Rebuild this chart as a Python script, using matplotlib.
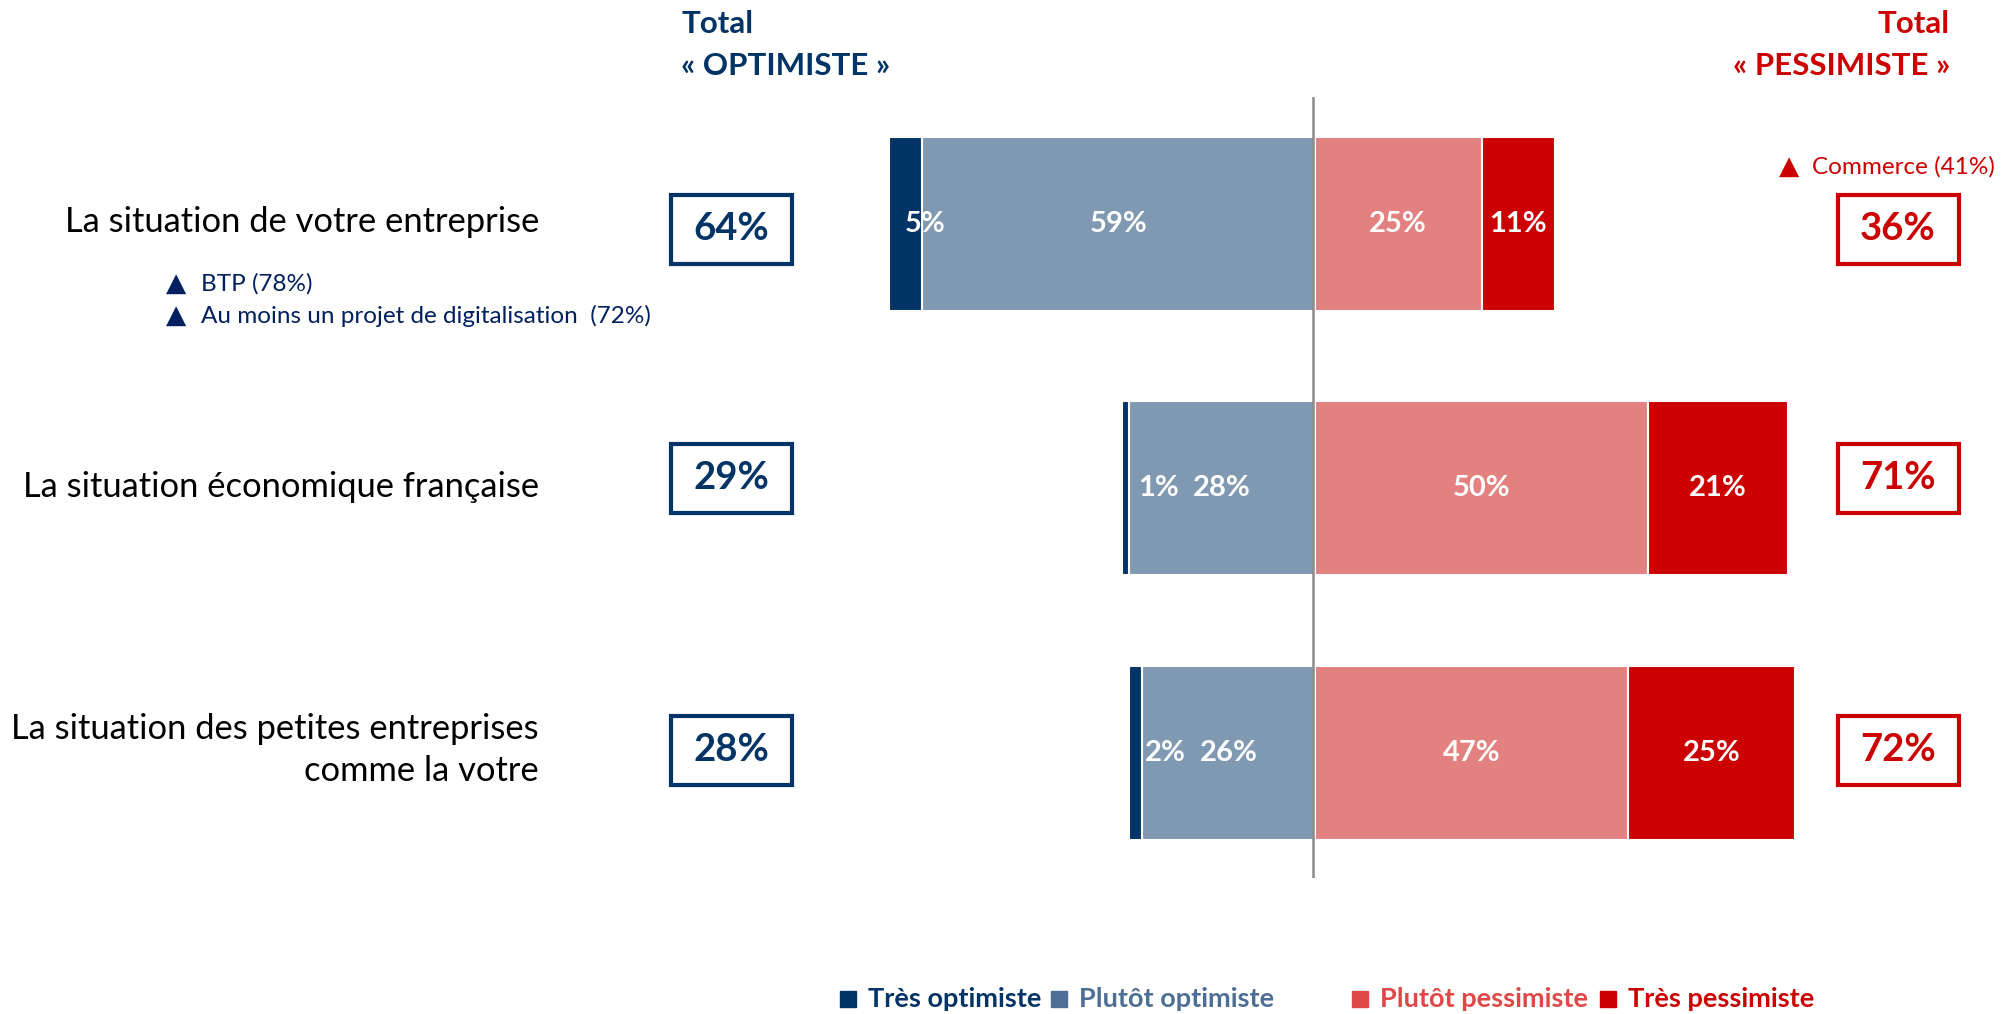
import matplotlib
matplotlib.use("Agg")
import matplotlib.pyplot as plt
from matplotlib.patches import Rectangle
import numpy as np

plt.rcParams['font.family'] = ['Lato', 'DejaVu Sans']

# data
categories = ["La situation de votre entreprise",
              "La situation économique française",
              "La situation des petites entreprises\ncomme la votre"]
tres_optimiste = [5, 1, 2]
plutot_optimiste = [59, 28, 26]
plutot_pessimiste = [25, 50, 47]
tres_pessimiste = [11, 21, 25]
total_optimiste = [64, 29, 28]
total_pessimiste = [36, 71, 72]

series_names = ["Très optimiste", "Plutôt optimiste", "Plutôt pessimiste", "Très pessimiste"]

NAVY = "#003366"
STEEL = "#7f99b2"
PINK = "#e38080"
RED = "#cc0000"

W, H = 2004, 1014
fig = plt.figure(figsize=(W / 100, H / 100), dpi=100)


def fx(px):
    return px / W


def fy(py):
    return 1 - py / H


# bar axes: 0% at x=1315 px, 6.66 px per %
x0_px, px_per = 1315, 6.66
xmin, xmax = -70, 80
left_px = x0_px + xmin * px_per
right_px = x0_px + xmax * px_per
top_px, bot_px = 97, 878
ax = fig.add_axes([fx(left_px), fy(bot_px), (right_px - left_px) / W, (bot_px - top_px) / H])
ax.set_xlim(xmin, xmax)
ax.set_ylim(2.473, -0.48)
ax.axis("off")

y = np.arange(len(categories))
to = np.array(tres_optimiste)
po = np.array(plutot_optimiste)
pp = np.array(plutot_pessimiste)
tp = np.array(tres_pessimiste)
h = 0.658

ax.barh(y, -po, height=h, color=STEEL, edgecolor="white", linewidth=1.5)
ax.barh(y, -to, left=-po, height=h, color=NAVY, edgecolor="white", linewidth=1.5)
ax.barh(y, pp, height=h, color=PINK, edgecolor="white", linewidth=1.5)
ax.barh(y, tp, left=pp, height=h, color=RED, edgecolor="white", linewidth=1.5)
ax.axvline(-0.35, color="#8c8c8c", linewidth=1.8)

lab_kw = dict(color="white", fontsize=21, fontweight="bold", ha="center", va="center")
for i in range(len(categories)):
    ax.text(-po[i] - to[i] + 5.5, y[i], f"{to[i]}%", **lab_kw)
    ax.text(-po[i] / 2, y[i], f"{po[i]}%", **lab_kw)
    ax.text(pp[i] / 2, y[i], f"{pp[i]}%", **lab_kw)
    ax.text(pp[i] + tp[i] / 2, y[i], f"{tp[i]}%", **lab_kw)

# category labels
cat_y = [222, 487, 750]
for lab, cy in zip(categories, cat_y):
    fig.text(fx(539), fy(cy), lab, ha="right", va="center", fontsize=24.8,
             color="black", linespacing=1.42)

# sub annotations
sub_col = "#002060"
tri_kw = dict(fontsize=19, va="baseline", family=["DejaVu Sans"])
fig.text(fx(166), fy(291), "▲", color=sub_col, **tri_kw)
fig.text(fx(201), fy(291), "BTP (78%)", fontsize=17.5, color=sub_col, va="baseline")
fig.text(fx(166), fy(323), "▲", color=sub_col, **tri_kw)
fig.text(fx(201), fy(323), "Au moins un projet de digitalisation  (72%)", fontsize=17.5,
         color=sub_col, va="baseline")
fig.text(fx(1779), fy(174), "▲", color=RED, **tri_kw)
fig.text(fx(1812), fy(174), "Commerce (41%)", fontsize=17.5, color=RED, va="baseline")

# headers
hd_kw = dict(fontsize=22.5, fontweight="bold", va="center")
fig.text(fx(681), fy(24), "Total", color=NAVY, **hd_kw)
fig.text(fx(681), fy(66), "« OPTIMISTE »", color=NAVY, **hd_kw)
fig.text(fx(1950), fy(24), "Total", color=RED, ha="right", **hd_kw)
fig.text(fx(1950), fy(66), "« PESSIMISTE »", color=RED, ha="right", **hd_kw)

# total boxes
box_y = [229, 478, 750]
bw, bh = 121, 69
for i, cy in enumerate(box_y):
    for cx, val, col in [(731, total_optimiste[i], NAVY), (1898, total_pessimiste[i], RED)]:
        fig.patches.append(Rectangle((fx(cx - bw / 2), fy(cy + bh / 2)), bw / W, bh / H,
                                     transform=fig.transFigure, fill=False,
                                     edgecolor=col, linewidth=3))
        fig.text(fx(cx), fy(cy), f"{val}%", ha="center", va="center", fontsize=27.5,
                 fontweight="bold", color=col)

# legend
leg_y = 999
leg_items = [(840, NAVY, NAVY), (1051, "#4e6f95", "#4e6f95"),
             (1352, "#e04848", "#e04848"), (1600, RED, RED)]
for (sx, sq_col, txt_col), name in zip(leg_items, series_names):
    fig.patches.append(Rectangle((fx(sx), fy(leg_y + 8)), 16 / W, 16 / H,
                                 transform=fig.transFigure, color=sq_col))
    fig.text(fx(sx + 28), fy(leg_y), name, fontsize=19.5, fontweight="bold",
             color=txt_col, va="center")

fig.savefig("out.png", dpi=100)
